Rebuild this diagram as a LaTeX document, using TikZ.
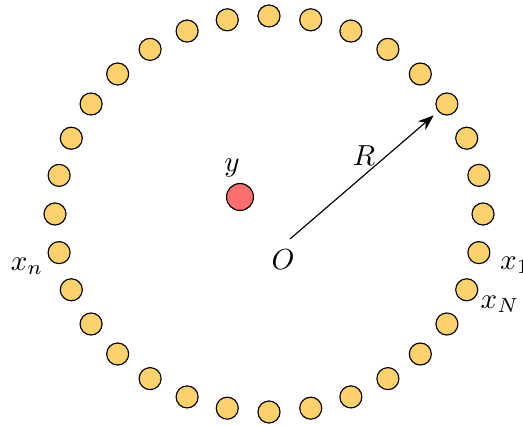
\documentclass[tikz,border=0pt]{standalone}
\usepackage{tikz}
\usetikzlibrary{arrows.meta}
\definecolor{siteyellow}{RGB}{255,210,110}
\definecolor{probered}{RGB}{255,110,110}
\newcommand\RadX{214}
\newcommand\RadY{198}
\newcommand\Step{11.25}
\tikzset{
  site/.style={
    inner sep = 0pt,
    shape = circle,
    draw,
    fill = siteyellow,
    minimum size = 7.6pt
  },
  probe/.style={
    inner sep = 0pt,
    shape = circle,
    draw,
    fill = probered,
    minimum size = 9.3pt
  },
  radius arrow/.style={
    -{Stealth[length=5.5pt,width=4pt]},
    shorten >=2pt
  }
}

\begin{document}
\begin{tikzpicture}[x=0.345pt,y=0.345pt]
    \useasboundingbox (-269,-212) rectangle (254,214);
    % ring of sites, x1 just below the rightmost one
    \foreach \k in {1,...,32}{
      \node[site] (x\k) at ({(\k-2)*\Step}:{\RadX} and {\RadY}) {};
    }
    \node[probe] (y) at (-29,17) {};
    \node (ylab) at (-37,46) {$y$};

    \coordinate (O) at (21,-25);
    \node (Olab) at (14,-46) {$O$};
    \draw[radius arrow] (O) -- node[above] (Rlab) {$R$} (x5);

    \node (x1lab) at (246,-51) {$x_1$};
    \node (xNlab) at (231,-90) {$x_N$};
    \node (xnlab) at (-242,-52) {$x_n$};
\end{tikzpicture}
\end{document}
